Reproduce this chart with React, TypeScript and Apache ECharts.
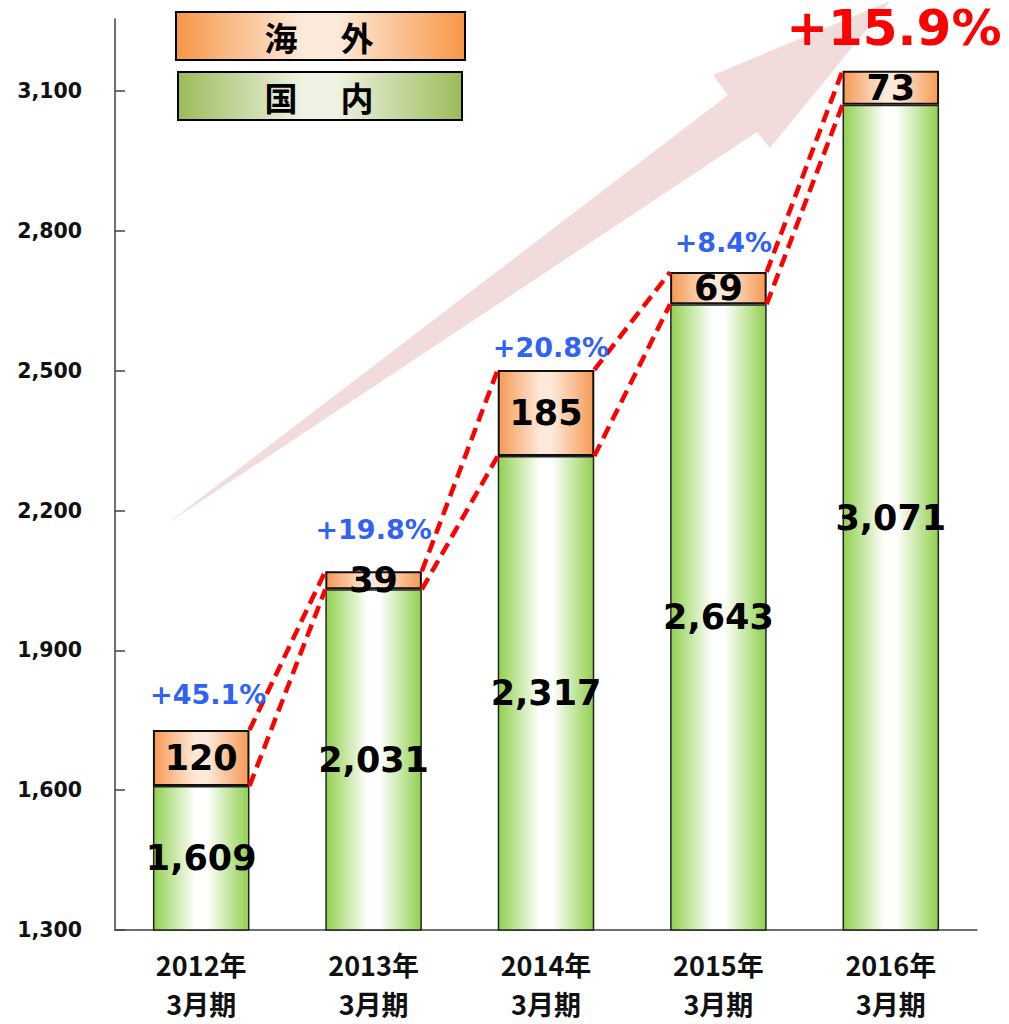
import React, { useEffect, useRef } from "react";
import * as echarts from "echarts";

// ---- data ----
const categories = ["2012年\n3月期", "2013年\n3月期", "2014年\n3月期", "2015年\n3月期", "2016年\n3月期"];
const domestic = [1609, 2031, 2317, 2643, 3071];
const overseas = [120, 39, 185, 69, 73];
const growthLabels = ["+45.1%", "+19.8%", "+20.8%", "+8.4%", "+15.9%"];
const yTicks = [1300, 1600, 1900, 2200, 2500, 2800, 3100];
const legendNames = ["海外", "国内"];

// ---- layout ----
const Y_MIN = 1300;
const Y_MAX = 3255;
const BAR_FRACTION = 0.56;
const growthOffsets = [
  [7, -36],
  [0, -42],
  [5, -22],
  [5, -30],
  [3, -43],
];

const totals = domestic.map((d, i) => d + overseas[i]);

const grad = (edge: string, mid: string) =>
  new echarts.graphic.LinearGradient(0, 0, 1, 0, [
    { offset: 0, color: edge },
    { offset: 0.44, color: mid },
    { offset: 0.56, color: mid },
    { offset: 1, color: edge },
  ]);

export default function App() {
  const ref = useRef<HTMLDivElement>(null);
  useEffect(() => {
    document.body.style.margin = "0";
    if (!ref.current) return;
    const chart = echarts.init(ref.current, undefined, { renderer: "svg" });

    const legendBoxes = [
      { x: 176, y: 12, w: 289, h: 48, edge: "#F79646", mid: "#FDEADA", name: legendNames[0] },
      { x: 178, y: 72, w: 284, h: 48, edge: "#9BBB59", mid: "#EDF2E2", name: legendNames[1] },
    ];
    const legendGraphics: any[] = [];
    legendBoxes.forEach((b) => {
      legendGraphics.push({
        type: "rect",
        z: 10,
        shape: { x: b.x, y: b.y, width: b.w, height: b.h },
        style: { fill: grad(b.edge, b.mid), stroke: "#000", lineWidth: 2 },
      });
      b.name.split("").forEach((ch, k) => {
        legendGraphics.push({
          type: "text",
          z: 11,
          x: 281 + k * 76,
          y: b.y + b.h / 2 + 1,
          style: {
            text: ch,
            font: 'bold 33px "Noto Sans CJK JP"',
            fill: "#000",
            textAlign: "center",
            textVerticalAlign: "middle",
          },
        });
      });
    });

    const labelFont = {
      fontFamily: "DejaVu Sans",
      fontWeight: "bold" as const,
      fontSize: 35,
      color: "#000",
    };

    const option: any = {
      animation: false,
      grid: { left: 115, right: 32, top: 19, bottom: 94 },
      graphic: [
        {
          type: "polygon",
          z: 0,
          shape: {
            points: [
              [168, 523],
              [728, 95],
              [713, 75],
              [890, 1],
              [770, 148],
              [757, 132],
            ],
          },
          style: { fill: "#F2DCDB" },
        },
        ...legendGraphics,
      ],
      xAxis: {
        type: "category",
        data: categories,
        axisLine: { lineStyle: { color: "#404040", width: 1.5 } },
        axisTick: { inside: true, length: 10, lineStyle: { color: "#404040", width: 1.5 } },
        axisLabel: {
          margin: 15,
          fontFamily: "Noto Sans CJK JP",
          fontWeight: "bold",
          fontSize: 27,
          lineHeight: 39,
          color: "#111",
        },
      },
      yAxis: {
        type: "value",
        min: Y_MIN,
        max: Y_MAX,
        splitLine: { show: false },
        axisLine: { show: true, lineStyle: { color: "#404040", width: 1.5 } },
        axisTick: {
          show: true,
          inside: true,
          length: 10,
          customValues: yTicks,
          lineStyle: { color: "#404040", width: 1.5 },
        },
        axisLabel: {
          customValues: yTicks,
          margin: 33,
          fontFamily: "DejaVu Sans",
          fontWeight: "bold",
          fontSize: 20.5,
          color: "#111",
          formatter: (v: number) => v.toLocaleString("en-US"),
        },
      },
      series: [
        {
          name: legendNames[1],
          type: "bar",
          stack: "total",
          barWidth: BAR_FRACTION * 100 + "%",
          data: domestic,
          z: 2,
          itemStyle: {
            color: grad("#92D050", "#FFFFFF"),
            borderColor: "#222",
            borderWidth: 1.5,
          },
          label: {
            show: true,
            position: "inside",
            ...labelFont,
            formatter: (p: any) => p.value.toLocaleString("en-US"),
          },
        },
        {
          name: legendNames[0],
          type: "bar",
          stack: "total",
          barWidth: BAR_FRACTION * 100 + "%",
          data: overseas,
          z: 2,
          itemStyle: {
            color: grad("#F59A55", "#FDE9DA"),
            borderColor: "#111",
            borderWidth: 2,
          },
          label: { show: true, position: "inside", ...labelFont },
        },
        {
          type: "custom",
          z: 3,
          data: totals.slice(0, totals.length - 1).map((t, i) => [i, t]),
          encode: { x: 0, y: 1 },
          renderItem: (params: any, api: any) => {
            const i = api.value(0);
            const half = (api.size([1, 0])[0] * BAR_FRACTION) / 2;
            const a1 = api.coord([i, totals[i]]);
            const b1 = api.coord([i + 1, totals[i + 1]]);
            const a2 = api.coord([i, domestic[i]]);
            const b2 = api.coord([i + 1, domestic[i + 1]]);
            const style = { stroke: "#FF0000", lineWidth: 4.5, lineDash: [13, 7], fill: null };
            return {
              type: "group",
              children: [
                { type: "line", shape: { x1: a1[0] + half, y1: a1[1], x2: b1[0] - half, y2: b1[1] }, style },
                { type: "line", shape: { x1: a2[0] + half, y1: a2[1], x2: b2[0] - half, y2: b2[1] }, style },
              ],
            };
          },
        },
        {
          type: "scatter",
          z: 5,
          symbolSize: 1,
          itemStyle: { color: "rgba(0,0,0,0)", opacity: 1 },
          data: totals.map((t, i) => ({
            value: [i, t],
            label: {
              offset: growthOffsets[i],
              ...(i === growthLabels.length - 1
                ? { fontSize: 50, fontWeight: "bold", color: "#FF0000" }
                : {}),
            },
          })),
          label: {
            show: true,
            position: "inside",
            opacity: 1,
            fontFamily: "DejaVu Sans",
            fontWeight: "bold",
            fontSize: 27,
            color: "#2F62F5",
            formatter: (p: any) => growthLabels[p.dataIndex],
          },
        },
      ],
    };
    chart.setOption(option);
    return () => chart.dispose();
  }, []);
  return <div ref={ref} style={{ width: 1009, height: 1024 }} />;
}
